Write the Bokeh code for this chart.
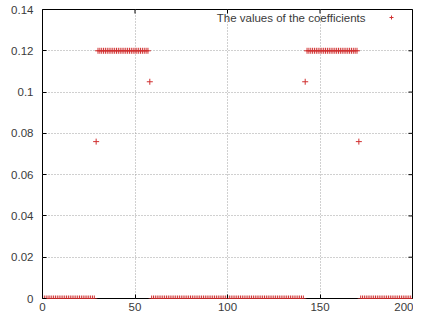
import math
from bokeh.plotting import figure
from bokeh.models import FixedTicker, Label, Legend, LegendItem
from bokeh.embed import file_html
from bokeh.resources import INLINE

# data
x_vals = list(range(201))
y_vals = ([0.0] * 29 + [0.076] + [0.12] * 28 + [0.105] + [0.0] * 83
          + [0.105] + [0.12] * 28 + [0.076] + [0.0] * 29)
x_ticks = [0, 50, 100, 150, 200]
y_ticks = [0, 0.02, 0.04, 0.06, 0.08, 0.1, 0.12, 0.14]
y_tick_labels = ["0", "0.02", "0.04", "0.06", "0.08", "0.1", "0.12", "0.14"]
series_name = "The values of the coefficients"

FONT = "Liberation Sans"
FS = "11.5px"
TXT = "#3a3a3a"
RED = "#d03030"

x_lo, x_hi = x_ticks[0], x_ticks[-1]
y_lo, y_hi = y_ticks[0], y_ticks[-1]

W, H = 413, 316
BL, BR, BT, BB = 42, 1, 9, 18
frame_h = H - BT - BB

p = figure(width=W, height=H, x_range=(x_lo, x_hi), y_range=(y_lo, y_hi),
           output_backend="svg", toolbar_location=None,
           min_border_left=BL, min_border_right=BR, min_border_top=BT,
           min_border_bottom=BB)

p.outline_line_color = "black"
p.outline_line_width = 1
p.background_fill_color = "white"
p.border_fill_color = "white"

xt = FixedTicker(ticks=x_ticks)
yt = FixedTicker(ticks=y_ticks)

for ax in p.xaxis:
    ax.ticker = xt
    ax.axis_line_color = None
    ax.major_tick_in = 4
    ax.major_tick_out = 0
    ax.minor_tick_line_color = None
    ax.major_label_standoff = 4
    ax.major_label_text_font = FONT
    ax.major_label_text_font_size = FS
    ax.major_label_text_color = TXT
for ax in p.yaxis:
    ax.ticker = yt
    ax.axis_line_color = None
    ax.major_tick_in = 4
    ax.major_tick_out = 0
    ax.minor_tick_line_color = None
    ax.major_label_standoff = 9
    ax.major_label_text_font = FONT
    ax.major_label_text_font_size = FS
    ax.major_label_text_color = TXT
    ax.major_label_overrides = {t: s for t, s in zip(y_ticks, y_tick_labels)}

p.xgrid.ticker = xt
p.ygrid.ticker = yt
p.grid.grid_line_color = "#a0a0a0"
p.grid.grid_line_dash = "1 2"
p.grid.grid_line_width = 1

# mirror ticks on the top and right borders (half of each dash is clipped by the frame)
p.scatter(x=x_ticks, y=[y_hi] * len(x_ticks), marker="dash", angle=math.pi / 2,
          size=8, line_color="black", line_width=1)
p.scatter(x=[x_hi] * len(y_ticks), y=y_ticks, marker="dash",
          size=8, line_color="black", line_width=1)

r = p.scatter(x_vals, y_vals, marker="cross", size=6, line_color=RED, line_width=1)

# legend: text then sample, gnuplot style (8px below the frame top)
p.add_layout(Label(x=323, y=frame_h - 8, x_units="screen", y_units="screen",
                   text=series_name, text_align="right", text_baseline="middle",
                   text_font=FONT, text_font_size=FS, text_color=TXT))
leg = Legend(items=[LegendItem(label=" ", renderers=[r])],
             location=(343.7, frame_h - 8 - 5),
             padding=0, margin=0, spacing=0, border_line_color=None,
             background_fill_alpha=0, glyph_width=10, glyph_height=10,
             label_standoff=0, label_width=0, label_height=10,
             label_text_font_size="6px")
p.add_layout(leg, "center")

open("out.html", "w").write(file_html(p, INLINE))
